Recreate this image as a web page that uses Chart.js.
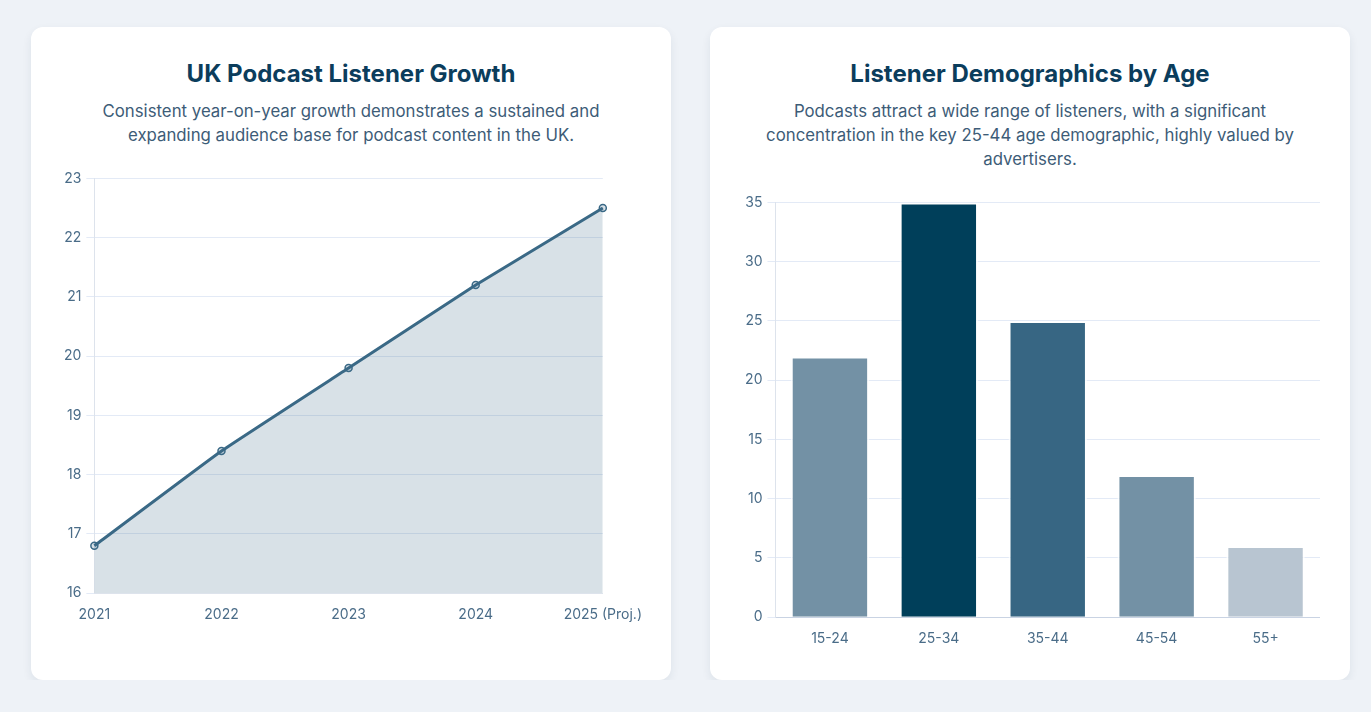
<!DOCTYPE html>
<html lang="en">
<head>
<meta charset="UTF-8">
<title>UK Podcast Listeners</title>
<script src="https://cdn.jsdelivr.net/npm/chart.js@4.4.1/dist/chart.umd.min.js"></script>
<style>
    body {
        margin: 0;
        background: #eef2f7;
        font-family: Inter, "Noto Sans", sans-serif;
    }
    .grid {
        display: grid;
        grid-template-columns: 640px 640px;
        gap: 39px;
        padding: 27px 0 0 31px;
    }
    .card {
        background: #fff;
        border-radius: 12px;
        box-shadow: 0 4px 10px rgba(30, 50, 80, 0.08);
        padding: 32px 30px 28px 30px;
    }
    h2 {
        margin: 0 0 11px;
        text-align: center;
        font-size: 24px;
        line-height: 29px;
        font-weight: 700;
        color: #0b3d5c;
    }
    p {
        margin: 0 auto 18px;
        max-width: 550px;
        text-align: center;
        font-size: 16.8px;
        line-height: 24px;
        color: #3d5c77;
    }
    .chart-box {
        position: relative;
        height: 463px;
    }
    .chart-box.wide {
        margin: 0 -6px 0 -2px;
    }
</style>
</head>
<body>
<div class="grid">
    <div class="card">
        <h2>UK Podcast Listener Growth</h2>
        <p>Consistent year-on-year growth demonstrates a sustained and expanding audience base for podcast content in the UK.</p>
        <div class="chart-box wide"><canvas id="growthChart"></canvas></div>
    </div>
    <div class="card">
        <h2>Listener Demographics by Age</h2>
        <p>Podcasts attract a wide range of listeners, with a significant concentration in the key 25-44 age demographic, highly valued by advertisers.</p>
        <div class="chart-box"><canvas id="ageChart"></canvas></div>
    </div>
</div>
<script>
    const years = ['2021', '2022', '2023', '2024', '2025 (Proj.)'];
    const listeners = [16.8, 18.4, 19.8, 21.2, 22.5];

    const ageGroups = ['15-24', '25-34', '35-44', '45-54', '55+'];
    const ageShare = [22, 35, 25, 12, 6];
    const ageColors = ['#7391a5', '#003f5a', '#376683', '#7391a5', '#b8c5d1'];

    const tickColor = '#4a6c88';
    const gridColor = '#e3eaf6';
    Chart.defaults.font.family = 'Inter, "Noto Sans", sans-serif';
    Chart.defaults.font.size = 14;
    Chart.defaults.color = tickColor;

    new Chart(document.getElementById('growthChart'), {
        type: 'line',
        data: {
            labels: years,
            datasets: [{
                label: 'Listeners (millions)',
                data: listeners,
                borderColor: '#3a6986',
                backgroundColor: 'rgba(58, 105, 134, 0.2)',
                borderWidth: 3,
                fill: true,
                tension: 0.1,
                pointRadius: 3.5,
                pointBorderWidth: 1.5,
                pointBackgroundColor: 'rgba(58, 105, 134, 0.2)',
                pointBorderColor: '#3a6986'
            }]
        },
        options: {
            responsive: true,
            maintainAspectRatio: false,
            animation: false,
            plugins: {
                legend: { display: false },
                tooltip: { enabled: false }
            },
            scales: {
                x: {
                    grid: { display: false },
                    border: { color: '#dde3ec' },
                    ticks: { color: tickColor, padding: 5 }
                },
                y: {
                    ticks: { stepSize: 1, color: tickColor, padding: 5 },
                    grid: { color: gridColor },
                    border: { color: '#dde3ec' }
                }
            }
        }
    });

    new Chart(document.getElementById('ageChart'), {
        type: 'bar',
        data: {
            labels: ageGroups,
            datasets: [{
                label: '% of listeners',
                data: ageShare,
                backgroundColor: ageColors,
                borderColor: 'rgba(255, 255, 255, 0.75)',
                borderWidth: 2
            }]
        },
        options: {
            responsive: true,
            maintainAspectRatio: false,
            animation: false,
            plugins: {
                legend: { display: false },
                tooltip: { enabled: false }
            },
            scales: {
                x: {
                    grid: { display: false },
                    border: { color: '#c9d3e3' },
                    ticks: { color: tickColor, padding: 5 }
                },
                y: {
                    beginAtZero: true,
                    ticks: { stepSize: 5, color: tickColor, padding: 5 },
                    grid: { color: gridColor },
                    border: { color: '#dde3ec' }
                }
            }
        }
    });
</script>
</body>
</html>
